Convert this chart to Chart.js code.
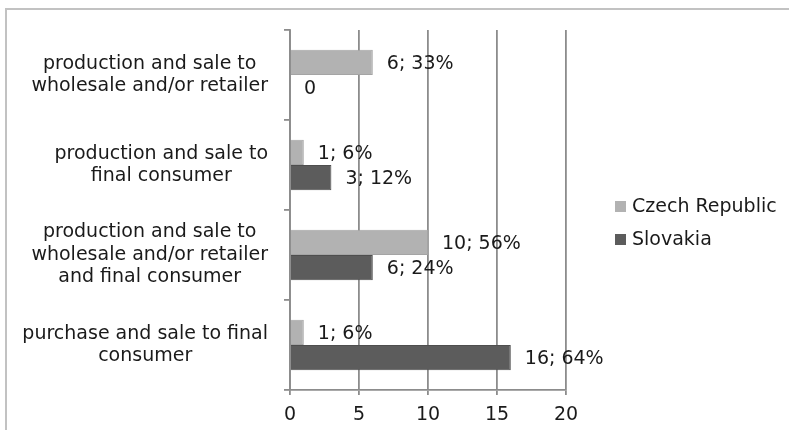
<!DOCTYPE html>
<html>
<head>
<meta charset="utf-8">
<script src="https://cdn.jsdelivr.net/npm/chart.js@4"></script>
<style>
  body { margin: 0; background: #fff; }
  #wrap { position: relative; width: 789px; height: 430px; overflow: hidden; }
  #frame { position: absolute; left: 5px; top: 8px; width: 900px; height: 500px;
           border-left: 2px solid #c2c2c2; border-top: 2px solid #c2c2c2; }
  #chart { position: absolute; left: 0; top: 0; }
</style>
</head>
<body>
<div id="wrap">
  <div id="frame"></div>
  <canvas id="chart" width="789" height="430"></canvas>
</div>
<script>
// categories, top to bottom
const categories = [
    ['production and sale to', 'wholesale and/or retailer'],
    ['production and sale to', 'final consumer'],
    ['production and sale to', 'wholesale and/or retailer', 'and final consumer'],
    ['purchase and sale to final', 'consumer']
];
const czechValues = [6, 1, 10, 1];
const czechShares = [33, 6, 56, 6];
const slovakiaValues = [0, 3, 6, 16];
const slovakiaShares = [0, 12, 24, 64];
const xTicks = [0, 5, 10, 15, 20];

const FONT = 'DejaVu Sans, Verdana, sans-serif';
const SIZE = 19;
const TEXT = '#1a1a1a';
const GRID = '#8c8c8c';

function barLabel(v, p) {
    return v === 0 ? '0' : v + '; ' + p + '%';
}

// value labels to the right of each bar
const valueLabels = {
    id: 'valueLabels',
    afterDatasetsDraw(chart) {
        const ctx = chart.ctx;
        ctx.save();
        ctx.font = SIZE + 'px ' + FONT;
        ctx.fillStyle = TEXT;
        ctx.textAlign = 'left';
        ctx.textBaseline = 'middle';
        chart.data.datasets.forEach((ds, d) => {
            chart.getDatasetMeta(d).data.forEach((bar, i) => {
                ctx.fillText(barLabel(ds.data[i], ds.shares[i]), bar.x + 14, bar.y + 1.5);
            });
        });
        ctx.restore();
    }
};

// category labels, each block centred on itself and right-aligned to the axis
const categoryLabels = {
    id: 'categoryLabels',
    afterDraw(chart) {
        const ctx = chart.ctx;
        const y = chart.scales.y;
        const right = chart.chartArea.left - 22;
        const lh = 22.5;
        ctx.save();
        ctx.font = SIZE + 'px ' + FONT;
        ctx.fillStyle = TEXT;
        ctx.textAlign = 'center';
        ctx.textBaseline = 'middle';
        categories.forEach((lines, i) => {
            const w = Math.max(...lines.map(l => ctx.measureText(l).width));
            const cx = right - w / 2;
            const cy = y.getPixelForValue(i);
            lines.forEach((l, k) => {
                ctx.fillText(l, cx, cy + (k - (lines.length - 1) / 2) * lh);
            });
        });
        ctx.restore();
    }
};

// legend on the right
const sideLegend = {
    id: 'sideLegend',
    afterDraw(chart) {
        const ctx = chart.ctx;
        const a = chart.chartArea;
        const x = a.right + 49;
        let yy = (a.top + a.bottom) / 2 - 3;
        ctx.save();
        ctx.font = SIZE + 'px ' + FONT;
        ctx.textAlign = 'left';
        ctx.textBaseline = 'middle';
        chart.data.datasets.forEach(ds => {
            ctx.fillStyle = ds.backgroundColor;
            ctx.fillRect(x, yy - 6, 11, 11);
            ctx.fillStyle = TEXT;
            ctx.fillText(ds.label, x + 17, yy);
            yy += 33;
        });
        ctx.restore();
    }
};

new Chart(document.getElementById('chart'), {
    type: 'bar',
    data: {
        labels: categories,
        datasets: [{
            label: 'Czech Republic',
            data: czechValues,
            shares: czechShares,
            backgroundColor: '#b2b2b2',
            borderColor: '#a4a4a4',
            borderWidth: 1
        }, {
            label: 'Slovakia',
            data: slovakiaValues,
            shares: slovakiaShares,
            backgroundColor: '#5c5c5c',
            borderColor: '#4e4e4e',
            borderWidth: 1
        }]
    },
    options: {
        indexAxis: 'y',
        responsive: false,
        animation: false,
        categoryPercentage: 0.56,
        barPercentage: 1.0,
        layout: { padding: { top: 30, right: 223, bottom: 0, left: 0 } },
        plugins: {
            legend: { display: false },
            tooltip: { enabled: false }
        },
        scales: {
            x: {
                min: 0,
                max: 20,
                afterFit: s => { s.height = 40; },
                afterBuildTicks: s => { s.ticks = xTicks.map(v => ({ value: v })); },
                grid: { color: GRID, lineWidth: 1.8, tickLength: 5 },
                border: { color: GRID, width: 1.8 },
                ticks: { color: TEXT, font: { family: FONT, size: SIZE }, padding: 9 }
            },
            y: {
                afterFit: s => { s.width = 290; },
                grid: { drawOnChartArea: false, offset: true, color: GRID, lineWidth: 1.8, tickLength: 6 },
                border: { color: GRID, width: 1.8 },
                ticks: { display: false }
            }
        }
    },
    plugins: [valueLabels, categoryLabels, sideLegend]
});
</script>
</body>
</html>
